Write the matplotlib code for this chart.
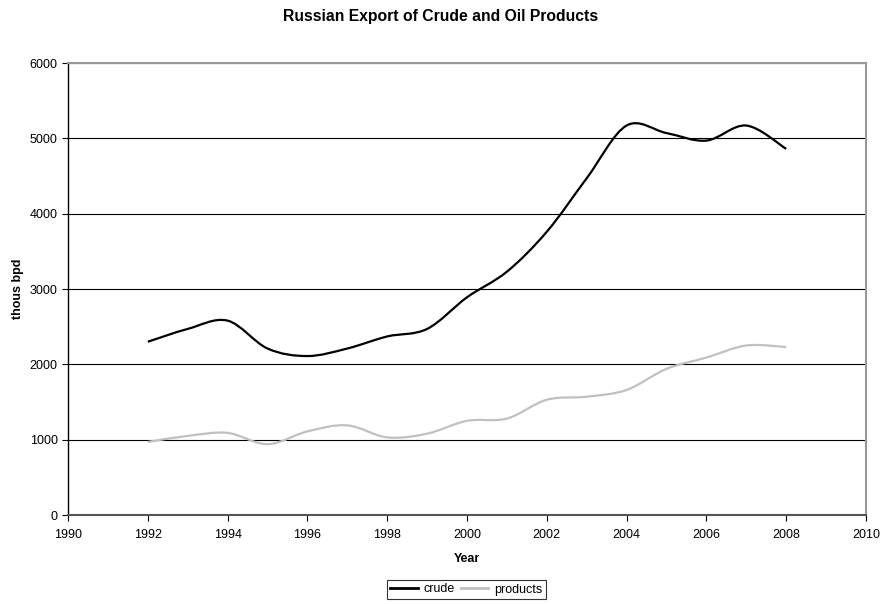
import matplotlib

matplotlib.use("Agg")
import matplotlib.pyplot as plt
import numpy as np
from matplotlib.lines import Line2D
from matplotlib.patches import PathPatch
from matplotlib.path import Path

plt.rcParams["font.family"] = ["Liberation Sans", "DejaVu Sans"]

years = [1992, 1993, 1994, 1995, 1996, 1997, 1998, 1999, 2000,
         2001, 2002, 2003, 2004, 2005, 2006, 2007, 2008]
crude = [2300, 2470, 2580, 2210, 2110, 2210, 2370, 2470, 2890,
         3230, 3760, 4470, 5170, 5070, 4970, 5170, 4860]
products = [970, 1050, 1090, 940, 1110, 1190, 1030, 1080, 1250,
            1280, 1530, 1570, 1660, 1940, 2090, 2250, 2230]

series_names = ["crude", "products"]
series_colors = ["#000000", "#c0c0c0"]


def smooth_path(x, y):
    """Bezier path through the points, like a spreadsheet 'smoothed line'."""
    pts = np.column_stack([x, y]).astype(float)
    n = len(pts)
    verts = [pts[0]]
    codes = [Path.MOVETO]
    for i in range(n - 1):
        p0 = pts[max(i - 1, 0)]
        p1 = pts[i]
        p2 = pts[i + 1]
        p3 = pts[min(i + 2, n - 1)]
        c1 = p1 + (p2 - p0) / 6.0
        c2 = p2 - (p3 - p1) / 6.0
        verts += [c1, c2, p2]
        codes += [Path.CURVE4] * 3
    return Path(verts, codes)


fig = plt.figure(figsize=(8.82, 6.04), dpi=100)
ax = fig.add_axes([68 / 882, 89 / 604, 798 / 882, 452 / 604])

for vals, col in zip([crude, products], series_colors):
    ax.add_patch(PathPatch(smooth_path(years, vals), facecolor="none",
                           edgecolor=col, lw=1.6, zorder=3,
                           capstyle="butt"))

ax.set_xlim(1990, 2010)
ax.set_ylim(0, 6000)
ax.set_xticks(range(1990, 2011, 2))
ax.set_yticks(range(0, 6001, 1000))
ax.yaxis.grid(True, color="black", lw=0.8)
ax.set_axisbelow(True)

ax.tick_params(direction="out", length=4, width=0.8, labelsize=9,
               colors="black")
ax.tick_params(axis="x", pad=6)
ax.spines["left"].set_color("black")
ax.spines["left"].set_linewidth(1.0)
ax.spines["bottom"].set_color("#555555")
ax.spines["bottom"].set_linewidth(1.5)
for side in ["top", "right"]:
    ax.spines[side].set_color("#999999")
    ax.spines[side].set_linewidth(1.5)

ax.set_xlabel("Year", fontsize=9, fontweight="bold", labelpad=9)
ax.set_ylabel("thous bpd", fontsize=9, fontweight="bold", labelpad=4)
fig.suptitle("Russian Export of Crude and Oil Products", fontsize=11.3,
             fontweight="bold", x=441 / 882, y=1 - 16 / 604, va="center")

handles = [Line2D([], [], color=c, lw=2) for c in series_colors]
leg = fig.legend(handles, series_names, loc="center", ncol=2,
                 bbox_to_anchor=(466.5 / 882, 1 - 589.5 / 604), fontsize=9,
                 frameon=True, fancybox=False, edgecolor="black",
                 handlelength=2.2, handletextpad=0.5, columnspacing=0.45,
                 borderpad=0.25, borderaxespad=0)
leg.get_frame().set_linewidth(0.8)

fig.savefig("out.png", dpi=100)
